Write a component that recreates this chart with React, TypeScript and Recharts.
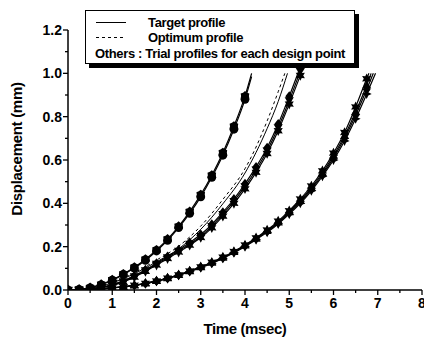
import React from 'react'
import { LineChart, Line, XAxis, YAxis } from 'recharts'

// time axis (msec) for each group of curves
const timeA = [0, 0.25, 0.5, 0.75, 1, 1.25, 1.5, 1.75, 2, 2.25, 2.5, 2.75, 3, 3.25, 3.5, 3.75, 4, 4.15]
const timeB = [0, 0.25, 0.5, 0.75, 1, 1.25, 1.5, 1.75, 2, 2.25, 2.5, 2.75, 3, 3.25, 3.5, 3.75, 4, 4.25, 4.5, 4.75, 5, 5.25]
const timeC = [0, 0.25, 0.5, 0.75, 1, 1.25, 1.5, 1.75, 2, 2.25, 2.5, 2.75, 3, 3.25, 3.5, 3.75, 4, 4.25, 4.5, 4.75, 5, 5.25, 5.5, 5.75, 6, 6.25, 6.5, 6.75]
const endC = [6.8, 6.85, 6.9, 6.95]
const timeTarget = [0, 0.5, 1, 1.5, 2, 2.5, 3, 3.5, 4, 4.25, 4.5, 4.75, 4.96]
const timeOptimum = [0, 0.5, 1, 1.5, 2, 2.5, 3, 3.5, 4, 4.25, 4.5, 4.75, 4.9]

// displacement (mm)
const target = [0, 0.008, 0.033, 0.075, 0.13, 0.19, 0.28, 0.398, 0.54, 0.635, 0.745, 0.87, 1.0]
const optimum = [0, 0.009, 0.036, 0.08, 0.138, 0.202, 0.295, 0.418, 0.56, 0.66, 0.78, 0.915, 1.0]

const trialA1 = [0, 0.003, 0.01, 0.024, 0.045, 0.071, 0.101, 0.137, 0.18, 0.229, 0.288, 0.354, 0.43, 0.52, 0.622, 0.742, 0.88, 0.985]
const trialA2 = [0, 0.003, 0.011, 0.026, 0.047, 0.074, 0.105, 0.142, 0.185, 0.235, 0.294, 0.362, 0.44, 0.53, 0.634, 0.756, 0.895, 1.0]

const trialB1 = [0, 0.001, 0.005, 0.012, 0.023, 0.04, 0.063, 0.09, 0.12, 0.15, 0.18, 0.212, 0.248, 0.295, 0.35, 0.41, 0.478, 0.555, 0.643, 0.75, 0.875, 1.01]
const trialB2 = [0, 0.001, 0.004, 0.011, 0.021, 0.037, 0.059, 0.086, 0.115, 0.145, 0.175, 0.207, 0.242, 0.287, 0.341, 0.4, 0.467, 0.543, 0.63, 0.735, 0.858, 0.99]
const trialB3 = [0, 0.002, 0.006, 0.013, 0.025, 0.042, 0.066, 0.093, 0.124, 0.155, 0.186, 0.219, 0.256, 0.303, 0.359, 0.42, 0.49, 0.568, 0.657, 0.766, 0.894, 1.03]

const trialC1 = [0, 0.001, 0.003, 0.006, 0.01, 0.015, 0.022, 0.031, 0.042, 0.055, 0.07, 0.088, 0.107, 0.128, 0.152, 0.178, 0.208, 0.241, 0.277, 0.318, 0.366, 0.42, 0.48, 0.55, 0.632, 0.727, 0.845, 0.975, 1.0]
const trialC2 = [0, 0.001, 0.003, 0.006, 0.01, 0.015, 0.022, 0.031, 0.042, 0.055, 0.07, 0.087, 0.106, 0.127, 0.15, 0.176, 0.206, 0.238, 0.273, 0.313, 0.36, 0.412, 0.472, 0.54, 0.62, 0.712, 0.822, 0.945, 1.0]
const trialC3 = [0, 0.001, 0.003, 0.006, 0.01, 0.015, 0.021, 0.03, 0.041, 0.054, 0.069, 0.086, 0.105, 0.125, 0.148, 0.174, 0.203, 0.235, 0.27, 0.309, 0.355, 0.406, 0.465, 0.532, 0.61, 0.7, 0.806, 0.925, 1.0]
const trialC4 = [0, 0.001, 0.003, 0.006, 0.01, 0.014, 0.021, 0.03, 0.04, 0.053, 0.068, 0.085, 0.103, 0.123, 0.146, 0.172, 0.2, 0.232, 0.266, 0.305, 0.35, 0.4, 0.458, 0.525, 0.6, 0.688, 0.79, 0.905, 1.0]

const xTicks = [0, 0.5, 1, 1.5, 2, 2.5, 3, 3.5, 4, 4.5, 5, 5.5, 6, 6.5, 7, 7.5, 8]
const yTicks = [0, 0.1, 0.2, 0.3, 0.4, 0.5, 0.6, 0.7, 0.8, 0.9, 1.0, 1.1, 1.2]

const FONT = '"Liberation Sans", Arial, sans-serif'

const toPoints = (ts: number[], ds: number[]) => ts.map((t, i) => ({ t, d: ds[i] }))

const starPoints = (cx: number, cy: number, ro: number, ri: number, n: number) => {
  const pts: string[] = []
  for (let i = 0; i < n * 2; i++) {
    const r = i % 2 === 0 ? ro : ri
    const a = (Math.PI * i) / n - Math.PI / 2
    pts.push(`${cx + r * Math.cos(a)},${cy + r * Math.sin(a)}`)
  }
  return pts.join(' ')
}

// markers only on the 0.25 msec design points
const makeDot = (shape: string) => (props: any) => {
  const { cx, cy, payload, index } = props
  const key = `${shape}-${index}`
  if (cx == null || cy == null) return <g key={key} />
  const q = payload.t * 4
  if (Math.abs(q - Math.round(q)) > 1e-6) return <g key={key} />
  if (shape === 'circle') return <circle key={key} cx={cx} cy={cy} r={4.4} fill="#000" />
  if (shape === 'hex') return <polygon key={key} points={starPoints(cx, cy, 5, 3.9, 6)} fill="#000" />
  if (shape === 'star') return <polygon key={key} points={starPoints(cx, cy, 5.3, 2.9, 6)} fill="#000" />
  if (shape === 'triDown')
    return <polygon key={key} points={`${cx - 4.6},${cy - 3.2} ${cx + 4.6},${cy - 3.2} ${cx},${cy + 4.6}`} fill="#000" />
  if (shape === 'triUp')
    return <polygon key={key} points={`${cx - 4.6},${cy + 3.2} ${cx + 4.6},${cy + 3.2} ${cx},${cy - 4.6}`} fill="#000" />
  if (shape === 'diamond')
    return <polygon key={key} points={`${cx},${cy - 5} ${cx + 3.9},${cy} ${cx},${cy + 5} ${cx - 3.9},${cy}`} fill="#000" />
  return <polygon key={key} points={starPoints(cx, cy, 5, 2.3, 4)} fill="#000" />
}

const XTick = ({ x, y, payload }: any) => {
  const v = payload.value
  const major = Number.isInteger(v)
  return (
    <g>
      <line x1={x} x2={x} y1={y} y2={y + (major ? 5 : 3)} stroke="#000" strokeWidth={1.3} />
      {major && (
        <text x={x} y={y + 18} textAnchor="middle" fontFamily={FONT} fontWeight="bold" fontSize={14} fill="#000">
          {v}
        </text>
      )}
    </g>
  )
}

const YTick = ({ x, y, payload }: any) => {
  const v = payload.value
  const major = Math.round(v * 10) % 2 === 0
  return (
    <g>
      <line x1={x} x2={x - (major ? 5 : 3)} y1={y} y2={y} stroke="#000" strokeWidth={1.3} />
      {major && (
        <text x={x - 6} y={y} dy="0.36em" textAnchor="end" fontFamily={FONT} fontWeight="bold" fontSize={14} fill="#000">
          {v.toFixed(1)}
        </text>
      )}
    </g>
  )
}

const trials = [
  { key: 'A1', data: toPoints(timeA, trialA1), shape: 'circle' },
  { key: 'A2', data: toPoints(timeA, trialA2), shape: 'hex' },
  { key: 'B1', data: toPoints(timeB, trialB1), shape: 'triDown' },
  { key: 'B2', data: toPoints(timeB, trialB2), shape: 'star' },
  { key: 'B3', data: toPoints(timeB, trialB3), shape: 'diamond' },
  { key: 'C1', data: toPoints([...timeC, endC[0]], trialC1), shape: 'star' },
  { key: 'C2', data: toPoints([...timeC, endC[1]], trialC2), shape: 'triUp' },
  { key: 'C3', data: toPoints([...timeC, endC[2]], trialC3), shape: 'diamond' },
  { key: 'C4', data: toPoints([...timeC, endC[3]], trialC4), shape: 'cross' },
]

function LegendBox() {
  const row = (top: number): React.CSSProperties => ({
    position: 'absolute',
    top,
    lineHeight: '15px',
    whiteSpace: 'nowrap',
  })
  return (
    <div
      style={{
        position: 'absolute',
        left: 85,
        top: 10,
        width: 268,
        height: 52,
        border: '1px solid #000',
        boxShadow: '4px 4px 0 #000',
        background: '#fff',
        fontFamily: FONT,
        fontWeight: 'bold',
        fontSize: 13,
        letterSpacing: -0.35,
        color: '#000',
      }}
    >
      <svg width={40} height={52} style={{ position: 'absolute', left: 0, top: 0 }}>
        <line x1={10} x2={40} y1={11.5} y2={11.5} stroke="#000" strokeWidth={1} />
        <line x1={10} x2={40} y1={26.5} y2={26.5} stroke="#000" strokeWidth={1} strokeDasharray="3 3" />
      </svg>
      <div style={{ ...row(4), left: 62 }}>Target profile</div>
      <div style={{ ...row(19), left: 62 }}>Optimum profile</div>
      <div style={{ ...row(35), left: 9 }}>Others : Trial profiles for each design point</div>
    </div>
  )
}

export default function App() {
  return (
    <div style={{ position: 'absolute', left: 0, top: 0, width: 424, height: 337, background: '#fff' }}>
      <LineChart width={424} height={337} margin={{ top: 30, right: 2, bottom: 0, left: 0 }}>
        <XAxis
          type="number"
          dataKey="t"
          domain={[0, 8]}
          ticks={xTicks}
          interval={0}
          tickSize={0}
          tickMargin={0}
          tickLine={false}
          tick={<XTick />}
          height={47}
          axisLine={{ stroke: '#000', strokeWidth: 1.5 }}
          allowDataOverflow
        />
        <YAxis
          type="number"
          domain={[0, 1.2]}
          ticks={yTicks}
          interval={0}
          tickSize={0}
          tickMargin={0}
          tickLine={false}
          tick={<YTick />}
          width={68}
          axisLine={{ stroke: '#000', strokeWidth: 1.5 }}
          allowDataOverflow
        />
        {trials.map((s) => (
          <Line
            key={s.key}
            data={s.data}
            dataKey="d"
            type="monotone"
            stroke="#000"
            strokeWidth={1.2}
            dot={makeDot(s.shape)}
            activeDot={false}
            isAnimationActive={false}
          />
        ))}
        <Line
          data={toPoints(timeTarget, target)}
          dataKey="d"
          type="monotone"
          stroke="#000"
          strokeWidth={1}
          dot={false}
          activeDot={false}
          isAnimationActive={false}
        />
        <Line
          data={toPoints(timeOptimum, optimum)}
          dataKey="d"
          type="monotone"
          stroke="#000"
          strokeWidth={1}
          strokeDasharray="3 3"
          dot={false}
          activeDot={false}
          isAnimationActive={false}
        />
      </LineChart>
      <LegendBox />
      <div
        style={{
          position: 'absolute',
          left: 245,
          top: 328,
          transform: 'translate(-50%, -50%)',
          fontFamily: FONT,
          fontWeight: 'bold',
          fontSize: 15,
          letterSpacing: -0.4,
          whiteSpace: 'nowrap',
          color: '#000',
        }}
      >
        Time (msec)
      </div>
      <div
        style={{
          position: 'absolute',
          left: 16,
          top: 149,
          transform: 'translate(-50%, -50%) rotate(-90deg)',
          fontFamily: FONT,
          fontWeight: 'bold',
          fontSize: 15,
          letterSpacing: -0.3,
          whiteSpace: 'nowrap',
          color: '#000',
        }}
      >
        Displacement (mm)
      </div>
    </div>
  )
}
